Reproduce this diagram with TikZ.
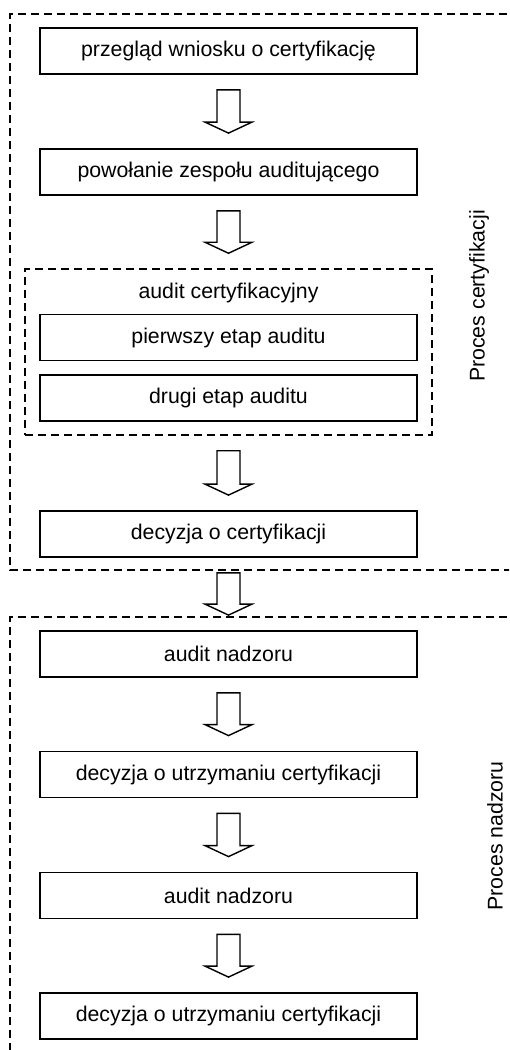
\documentclass[tikz,border=0pt]{standalone}
\usepackage{fontspec}
\setmainfont{Liberation Sans}
\usetikzlibrary{calc}
\tikzset{
  stepbox/.style={draw, line width=1.8pt, minimum width=377pt, minimum height=46pt, inner sep=0pt, font=\fontsize{21.3}{25}\selectfont, fill=white},
  dashline/.style={line width=1.5pt, dash pattern=on 8pt off 5pt},
  blk/.style={draw, line width=1.4pt, fill=white, line join=miter},
  sidelabel/.style={rotate=90, font=\fontsize{21.3}{25}\selectfont, inner sep=0pt},
  plain/.style={font=\fontsize{21.3}{25}\selectfont, inner sep=0pt}
}
\newcommand\blockarr[2]{%
  \path[blk] ($(#1.south)+(-11.5,-15)$) -- ($(#1.south)+(11.5,-15)$)
    -- ($(#2.north)+(11.5,26)$) -- ($(#2.north)+(23.5,26)$)
    -- ($(#2.north)+(0,15)$) -- ($(#2.north)+(-23.5,26)$)
    -- ($(#2.north)+(-11.5,26)$) -- cycle;}
\begin{document}
\begin{tikzpicture}[x=1pt,y=1pt]
\clip (0,0) rectangle (509,-1050);
% outer dashed frames
\draw[dashline] (520,-14) -- (10,-14) -- (10,-570) -- (520,-570);
\draw[dashline] (520,-617) -- (10,-617) -- (10,-1070);
% inner dashed frame
\node[draw, dashline, minimum width=407pt, minimum height=166pt, inner sep=0pt] (ac) at (228.5,-352) {};
\node[plain] (actitle) at (228.5,-293) {audit certyfikacyjny};
% boxes
\node[stepbox] (b1) at (228.5,-51) {przegląd wniosku o certyfikację};
\node[stepbox] (b2) at (228.5,-172) {powołanie zespołu auditującego};
\node[stepbox] (b3) at (228.5,-337.5) {pierwszy etap auditu};
\node[stepbox] (b4) at (228.5,-398) {drugi etap auditu};
\node[stepbox] (b5) at (228.5,-534) {decyzja o certyfikacji};
\node[stepbox] (b6) at (228.5,-654) {audit nadzoru};
\node[stepbox] (b7) at (228.5,-774.5) {decyzja o utrzymaniu certyfikacji};
\node[stepbox] (b8) at (228.5,-895.5) {audit nadzoru};
\node[stepbox] (b9) at (228.5,-1016) {decyzja o utrzymaniu certyfikacji};
% block arrows
\blockarr{b1}{b2}
\blockarr{b2}{ac}
\blockarr{ac}{b5}
\blockarr{b5}{b6}
\blockarr{b6}{b7}
\blockarr{b7}{b8}
\blockarr{b8}{b9}
% side labels
\node[sidelabel] (l1) at (479,-296) {Proces certyfikacji};
\node[sidelabel] (l2) at (495,-836) {Proces nadzoru};
\end{tikzpicture}
\end{document}
